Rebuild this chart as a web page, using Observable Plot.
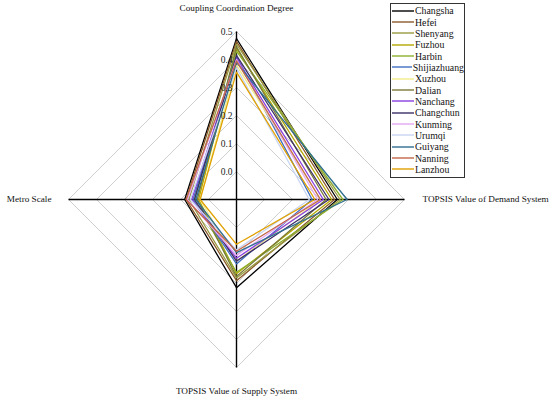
<!DOCTYPE html>
<html>
<head>
<meta charset="utf-8">
<script src="https://cdn.jsdelivr.net/npm/d3@7"></script>
<script src="https://cdn.jsdelivr.net/npm/@observablehq/plot@0.6"></script>
<style>
  body { margin: 0; background: #fff; font-family: "Liberation Serif", "Times New Roman", Times, "DejaVu Serif", serif; }
  #wrap { position: relative; width: 550px; height: 399px; }
  #chart svg, #chart svg text { font-family: "Liberation Serif", "Times New Roman", Times, "DejaVu Serif", serif !important; }
  #legend { position: absolute; left: 390px; top: 3px; width: 73px; border: 1px solid #333; background: #fff; padding: 1px 0 2px 0; }
  .row { display: flex; align-items: center; height: 11.35px; font-size: 9.8px; line-height: 11px; color: #111; white-space: nowrap; }
  .row svg { margin-left: 1px; margin-right: 1px; }
</style>
</head>
<body>
<div id="wrap"><div id="chart"></div><div id="legend"></div></div>
<script>
const cities = ["Changsha","Hefei","Shenyang","Fuzhou","Harbin","Shijiazhuang","Xuzhou","Dalian","Nanchang","Changchun","Kunming","Urumqi","Guiyang","Nanning","Lanzhou"];
const colors = ["#000000","#8B5A2B","#9A9A40","#B5A800","#8DAF2E","#3F6FBF","#F2EC8A","#7A7A38","#8A3FE0","#3C2F66","#E3A6F2","#C9D5F2","#2F6F8F","#C2674A","#E0A000"];
const axisNames = ["Coupling Coordination Degree","TOPSIS Value of Demand System","TOPSIS Value of Supply System","Metro Scale"];
const coupling = [0.475,0.465,0.455,0.44,0.43,0.41,0.38,0.445,0.405,0.415,0.40,0.37,0.39,0.395,0.355];
const demand   = [0.26,0.25,0.27,0.24,0.28,0.17,0.20,0.22,0.21,0.23,0.19,0.16,0.295,0.20,0.18];
const supply   = [0.215,0.19,0.18,0.165,0.16,0.13,0.12,0.175,0.11,0.12,0.10,0.08,0.09,0.085,0.06];
const metro    = [0.085,0.08,0.07,0.035,0.05,0.055,0.03,0.04,0.06,0.05,0.075,0.065,0.045,0.08,0.03];
const tickLabels = ["0.0","0.1","0.2","0.3","0.4","0.5"];
const tickValues = [0.0,0.1,0.2,0.3,0.4,0.5];
const rMin = -0.1, rMax = 0.5;

const series = [coupling, demand, supply, metro];
const angle = k => Math.PI / 2 - k * Math.PI / 2; // top, right, bottom, left
const pt = (v, k) => { const r = v - rMin; return [r * Math.cos(angle(k)), r * Math.sin(angle(k))]; };

const cityPts = [];
cities.forEach((c, i) => {
  for (let k = 0; k <= 4; k++) {
    const [x, y] = pt(series[k % 4][i], k % 4);
    cityPts.push({city: c, x, y});
  }
});
const gridPts = [];
tickValues.forEach(t => {
  for (let k = 0; k <= 4; k++) { const [x, y] = pt(t, k % 4); gridPts.push({level: t, x, y}); }
});
const axisLinks = axisNames.map((n, k) => { const [x2, y2] = pt(rMax, k); return {name: n, x1: 0, y1: 0, x2, y2}; });
const tickPts = tickValues.map((t, j) => { const [x, y] = pt(t, 0); return {label: tickLabels[j], x, y}; });

const S = 280; // px per unit
const chart = Plot.plot({
  width: 550, height: 399, margin: 0,
  x: {domain: [-236 / S, 314 / S], axis: null},
  y: {domain: [-200 / S, 199 / S], axis: null},
  color: {domain: cities, range: colors},
  style: {background: "#fff"},
  marks: [
    Plot.line(gridPts, {x: "x", y: "y", z: "level", stroke: "#cfcfcf", strokeWidth: 1}),
    Plot.link(axisLinks, {x1: "x1", y1: "y1", x2: "x2", y2: "y2", stroke: "#000", strokeWidth: 1.4}),
    Plot.line(cityPts, {x: "x", y: "y", z: "city", stroke: "city", strokeWidth: 1.3}),
    Plot.text(tickPts, {x: "x", y: "y", text: "label", textAnchor: "end", dx: -4, fontSize: 9.5, fill: "#222"}),
    Plot.text([axisLinks[0]], {x: "x2", y: "y2", text: "name", dy: -23, fontSize: 9.2, fill: "#111"}),
    Plot.text([axisLinks[1]], {x: "x2", y: "y2", text: "name", dx: 18, textAnchor: "start", fontSize: 9.2, fill: "#111"}),
    Plot.text([axisLinks[2]], {x: "x2", y: "y2", text: "name", dy: 24, fontSize: 9.2, fill: "#111"}),
    Plot.text([axisLinks[3]], {x: "x2", y: "y2", text: "name", dx: -17, textAnchor: "end", fontSize: 9.2, fill: "#111"})
  ]
});
document.getElementById("chart").appendChild(chart);

const legend = document.getElementById("legend");
cities.forEach((c, i) => {
  const row = document.createElement("div");
  row.className = "row";
  row.innerHTML = `<svg width="22" height="4"><line x1="0" y1="2" x2="22" y2="2" stroke="${colors[i]}" stroke-width="1.4"/></svg><span>${c}</span>`;
  legend.appendChild(row);
});
</script>
</body>
</html>
